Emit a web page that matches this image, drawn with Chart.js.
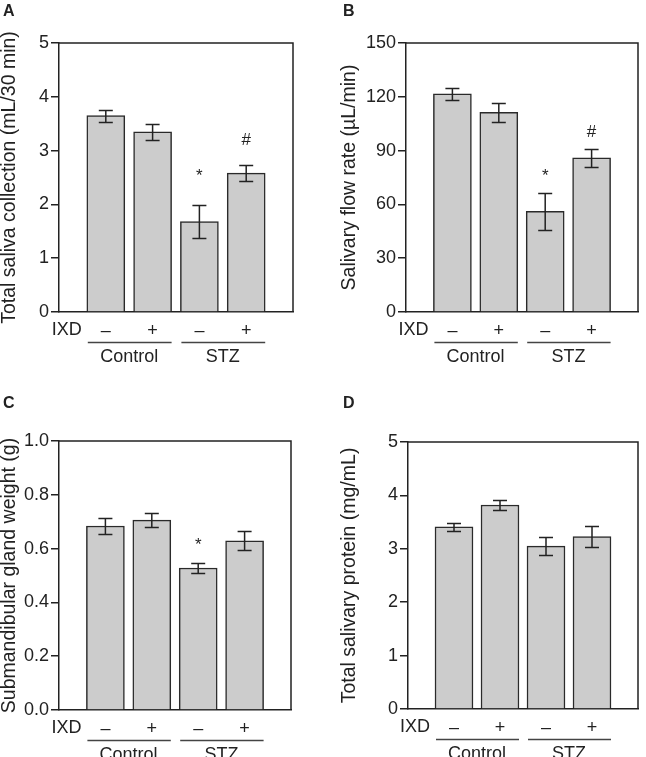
<!DOCTYPE html>
<html>
<head>
<meta charset="utf-8">
<script src="https://cdn.jsdelivr.net/npm/chart.js@4.4.1/dist/chart.umd.min.js"></script>
<style>
  html, body { margin: 0; padding: 0; background: #fff; }
  #wrap { position: relative; width: 646px; height: 757px; overflow: hidden; }
  .panel { position: absolute; }
</style>
</head>
<body>
<div id="wrap">
  <div class="panel" style="left:0;top:0;width:323px;height:378px"><canvas id="chart-a"></canvas></div>
  <div class="panel" style="left:323px;top:0;width:323px;height:378px"><canvas id="chart-b"></canvas></div>
  <div class="panel" style="left:0;top:378px;width:323px;height:379px"><canvas id="chart-c"></canvas></div>
  <div class="panel" style="left:323px;top:378px;width:323px;height:379px"><canvas id="chart-d"></canvas></div>
</div>
<script>
// x categories (IXD treatment) and group brackets
const ixdLabels = ['–', '+', '–', '+'];
const groupNames = ['Control', 'STZ'];

// A – total saliva collection (mL/30 min)
const salivaMean = [3.65, 3.35, 1.68, 2.58];
const salivaErr  = [0.11, 0.15, 0.30, 0.15];
const salivaSig   = ['', '', '*', '#'];
const salivaSigAt = [null, null, 2.60, 3.21];

// B – salivary flow rate (µL/min)
const flowMean = [121.6, 111.4, 56.2, 85.9];
const flowErr  = [3.3, 5.3, 10.2, 5.1];
const flowSig   = ['', '', '*', '#'];
const flowSigAt = [null, null, 78, 100.8];

// C – submandibular gland weight (g)
const glandMean = [0.684, 0.706, 0.528, 0.629];
const glandErr  = [0.028, 0.026, 0.017, 0.035];
const glandSig   = ['', '', '*', ''];
const glandSigAt = [null, null, 0.629, null];

// D – total salivary protein (mg/mL)
const proteinMean = [3.41, 3.82, 3.05, 3.23];
const proteinErr  = [0.075, 0.085, 0.165, 0.20];
const proteinSig   = ['', '', '', ''];
const proteinSigAt = [null, null, null, null];

const INK  = '#222';
const FONT = "'Liberation Sans', Arial, Helvetica, sans-serif";

Chart.defaults.font.family = FONT;
Chart.defaults.color = INK;

/* frame, error bars, significance marks, IXD row, group brackets, panel letter */
const panelDecor = {
  id: 'panelDecor',
  afterDatasetsDraw(chart, args, o) {
    const { ctx, chartArea: a, scales: { x, y } } = chart;
    ctx.save();
    ctx.strokeStyle = INK;
    ctx.lineWidth = 1.5;

    // top + right of the box
    ctx.beginPath();
    ctx.moveTo(a.left, a.top);
    ctx.lineTo(a.right, a.top);
    ctx.lineTo(a.right, a.bottom);
    ctx.stroke();

    // error bars
    o.means.forEach((m, i) => {
      const px = x.getPixelForValue(i + 1);
      const hi = Math.round(y.getPixelForValue(m + o.errs[i])) + 0.5;
      const lo = Math.round(y.getPixelForValue(m - o.errs[i])) + 0.5;
      ctx.beginPath();
      ctx.moveTo(px, hi); ctx.lineTo(px, lo);
      ctx.moveTo(px - 7, hi); ctx.lineTo(px + 7, hi);
      ctx.moveTo(px - 7, lo); ctx.lineTo(px + 7, lo);
      ctx.stroke();
    });

    // * / # marks, vertically centred on their level
    ctx.fillStyle = INK;
    ctx.textAlign = 'center';
    ctx.textBaseline = 'alphabetic';
    o.sig.forEach((s, i) => {
      if (!s) return;
      ctx.font = `17px ${FONT}`;
      const mt = ctx.measureText(s);
      const cy = y.getPixelForValue(o.sigAt[i]);
      ctx.fillText(s, x.getPixelForValue(i + 1), cy + (mt.actualBoundingBoxAscent - mt.actualBoundingBoxDescent) / 2);
    });

    // IXD row label
    ctx.font = `18px ${FONT}`;
    ctx.textAlign = 'right';
    ctx.textBaseline = 'middle';
    ctx.fillText('IXD', x.getPixelForValue(1) - 24, a.bottom + 18);

    // group brackets
    ctx.strokeStyle = '#444';
    ctx.textAlign = 'center';
    groupNames.forEach((g, k) => {
      const x1 = x.getPixelForValue(2 * k + 1);
      const x2 = x.getPixelForValue(2 * k + 2);
      ctx.beginPath();
      ctx.moveTo(x1 - 18, a.bottom + 30.5);
      ctx.lineTo(x2 + 19, a.bottom + 30.5);
      ctx.stroke();
      ctx.fillText(g, (x1 + x2) / 2, a.bottom + 45);
    });

    // panel letter
    ctx.font = `bold 16px ${FONT}`;
    ctx.textAlign = 'left';
    ctx.textBaseline = 'alphabetic';
    ctx.fillText(o.letter, o.letterX, o.letterY);
    ctx.restore();
  }
};

function renderPanel(id, p) {
  const ctx = document.getElementById(id).getContext('2d');
  return new Chart(ctx, {
    type: 'bar',
    data: {
      labels: ['', ...ixdLabels, ''],
      datasets: [{
        data: [null, ...p.means, null],
        backgroundColor: '#cccccc',
        borderColor: '#2a2a2a',
        borderWidth: 1.5,
        barThickness: 38,
      }]
    },
    options: {
      responsive: true,
      maintainAspectRatio: false,
      animation: false,
      layout: { padding: p.padding },
      plugins: {
        legend: { display: false },
        tooltip: { enabled: false },
        panelDecor: p,
      },
      scales: {
        x: {
          type: 'category',
          offset: false,
          grid: { display: false, drawTicks: false },
          border: { display: true, color: INK, width: 1.5 },
          ticks: { autoSkip: false, maxRotation: 0, padding: 8, font: { size: 18 }, color: INK },
          afterFit: s => { s.height = p.xHeight; }
        },
        y: {
          min: 0,
          max: p.max,
          grid: { drawOnChartArea: false, drawTicks: true, tickLength: 8, color: INK, lineWidth: 1.5 },
          border: { display: true, color: INK, width: 1.5 },
          ticks: {
            stepSize: p.step,
            padding: 2,
            font: { size: 18 },
            color: INK,
            callback: v => p.decimals ? v.toFixed(p.decimals) : v
          },
          title: {
            display: true,
            text: p.title,
            color: INK,
            font: { size: 19.5, lineHeight: 1 },
            padding: { top: p.titlePad, bottom: 0 }
          },
          afterFit: s => { s.width = p.yWidth; }
        }
      }
    },
    plugins: [panelDecor]
  });
}

renderPanel('chart-a', {
  means: salivaMean, errs: salivaErr, sig: salivaSig, sigAt: salivaSigAt,
  max: 5, step: 1, decimals: 0,
  title: 'Total saliva collection (mL/30 min)', titlePad: 0,
  letter: 'A', letterX: 3, letterY: 16,
  padding: { top: 43, right: 30, bottom: 6, left: 0 }, yWidth: 59, xHeight: 60
});

renderPanel('chart-b', {
  means: flowMean, errs: flowErr, sig: flowSig, sigAt: flowSigAt,
  max: 150, step: 30, decimals: 0,
  title: 'Salivary flow rate (µL/min)', titlePad: 17,
  letter: 'B', letterX: 20, letterY: 16,
  padding: { top: 43, right: 5, bottom: 6, left: 0 }, yWidth: 83, xHeight: 60
});

renderPanel('chart-c', {
  means: glandMean, errs: glandErr, sig: glandSig, sigAt: glandSigAt,
  max: 1.0, step: 0.2, decimals: 1,
  title: 'Submandibular gland weight (g)', titlePad: 0,
  letter: 'C', letterX: 3, letterY: 30,
  padding: { top: 63, right: 32, bottom: 7, left: 0 }, yWidth: 59, xHeight: 40
});

renderPanel('chart-d', {
  means: proteinMean, errs: proteinErr, sig: proteinSig, sigAt: proteinSigAt,
  max: 5, step: 1, decimals: 0,
  title: 'Total salivary protein (mg/mL)', titlePad: 17,
  letter: 'D', letterX: 20, letterY: 30,
  padding: { top: 64, right: 3, bottom: 8, left: 0 }, yWidth: 85, xHeight: 40
});
</script>
</body>
</html>
